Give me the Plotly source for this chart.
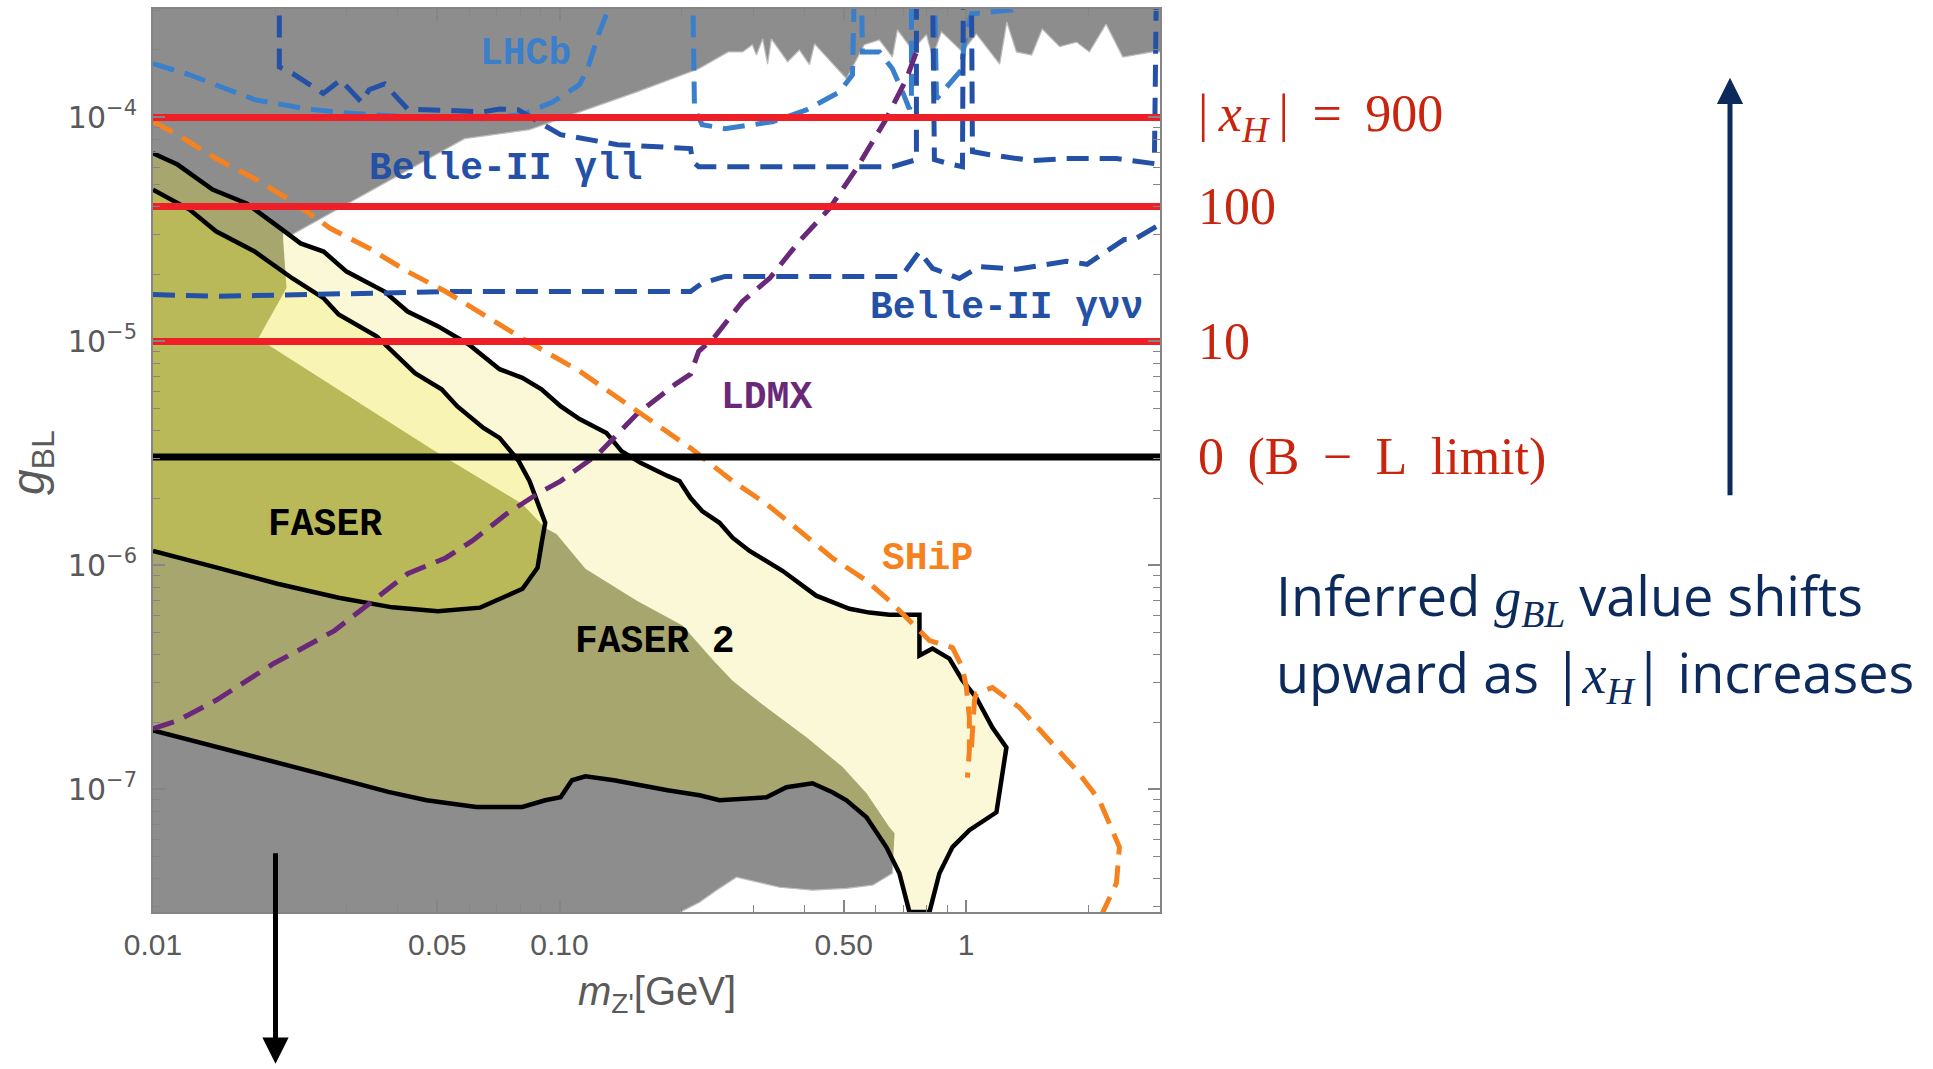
import math
import plotly.graph_objects as go

# ---------------- data (m_Z' in GeV, g_BL) ----------------
# grey: existing constraints, upper jagged edge (right -> left)
gray_top_x = [2.87, 2.43, 2.21, 2.01, 1.87, 1.70, 1.54, 1.45, 1.33, 1.26, 1.21, 1.06, 0.98, 0.87, 0.827, 0.799,
              0.738, 0.678, 0.659, 0.612, 0.562, 0.508, 0.424, 0.412, 0.389, 0.364, 0.332, 0.325, 0.316, 0.305,
              0.298, 0.282, 0.260, 0.220, 0.155, 0.112, 0.0844, 0.0584]
gray_top_y = [1.96e-4, 1.86e-4, 2.61e-4, 1.96e-4, 2.17e-4, 2.07e-4, 2.48e-4, 1.90e-4, 1.96e-4, 2.67e-4, 1.73e-4,
              2.36e-4, 1.96e-4, 2.41e-4, 1.86e-4, 2.34e-4, 2.00e-4, 2.46e-4, 1.86e-4, 2.22e-4, 2.11e-4, 1.49e-4,
              2.13e-4, 1.72e-4, 2.00e-4, 1.77e-4, 2.24e-4, 1.73e-4, 2.24e-4, 1.90e-4, 2.11e-4, 1.96e-4, 1.96e-4,
              1.65e-4, 1.30e-4, 1.06e-4, 8.82e-5, 8.04e-5]
# grey: diagonal edge of the lower excluded region
gray_diag_x = [0.0209, 0.0213, 0.01815, 0.01892, 0.0502, 0.0810, 0.0922, 0.0983, 0.1158, 0.155, 0.2007, 0.239,
               0.2665, 0.3229, 0.405, 0.497, 0.569, 0.648, 0.667]
gray_diag_y = [2.85e-5, 1.73e-5, 1.03e-5, 9.82e-6, 3.18e-6, 1.88e-6, 1.47e-6, 1.38e-6, 9.66e-7, 6.96e-7, 5.39e-7,
               3.76e-7, 3.06e-7, 2.32e-7, 1.71e-7, 1.26e-7, 9.62e-8, 6.78e-8, 6.38e-8]
gray_bot_x = [0.659, 0.589, 0.508, 0.419, 0.3476, 0.2724, 0.2433, 0.221, 0.1984]
gray_bot_y = [4.23e-8, 3.74e-8, 3.62e-8, 3.55e-8, 3.66e-8, 4.06e-8, 3.55e-8, 3.14e-8, 2.84e-8]

# FASER 2 sensitivity contour
faser2_up_x = [0.01, 0.01149, 0.01401, 0.01699, 0.02107, 0.02307, 0.02628, 0.02994, 0.03712, 0.04229, 0.0502,
               0.0597, 0.0712, 0.0810, 0.0903, 0.1006, 0.1120, 0.1305, 0.1421, 0.1582, 0.1844, 0.1973, 0.2101,
               0.2243, 0.2475, 0.2665, 0.2934, 0.3535, 0.4279, 0.5167, 0.5786, 0.648, 0.768, 0.768, 0.827, 0.910,
               0.980, 1.060, 1.161, 1.257, 1.188, 1.019, 0.926, 0.860, 0.813]
faser2_up_y = [6.91e-5, 6.16e-5, 4.76e-5, 4.13e-5, 3.10e-5, 2.74e-5, 2.52e-5, 2.05e-5, 1.67e-5, 1.36e-5, 1.17e-5,
               9.72e-6, 7.52e-6, 6.88e-6, 6.12e-6, 5.14e-6, 4.50e-6, 3.90e-6, 3.24e-6, 2.87e-6, 2.51e-6, 2.38e-6,
               2.00e-6, 1.75e-6, 1.55e-6, 1.33e-6, 1.16e-6, 9.47e-7, 7.33e-7, 6.41e-7, 6.16e-7, 6.03e-7, 6.03e-7,
               3.96e-7, 4.26e-7, 3.84e-7, 3.07e-7, 2.57e-7, 1.89e-7, 1.54e-7, 7.91e-8, 6.58e-8, 5.53e-8, 4.23e-8,
               2.84e-8]
faser2_lo_x = [0.7255, 0.6855, 0.6368, 0.569, 0.508, 0.469, 0.419, 0.3617, 0.3229, 0.2475, 0.221, 0.1844, 0.1362,
               0.1158, 0.1073, 0.1006, 0.0922, 0.0810, 0.0624, 0.0471, 0.0379, 0.0257, 0.01461, 0.01]
faser2_lo_y = [2.84e-8, 4.23e-8, 5.53e-8, 7.52e-8, 8.95e-8, 9.72e-8, 1.066e-7, 1.023e-7, 9.23e-8, 8.95e-8,
               9.42e-8, 9.92e-8, 1.099e-7, 1.145e-7, 1.099e-7, 9.23e-8, 8.95e-8, 8.36e-8, 8.36e-8, 8.95e-8,
               9.75e-8, 1.177e-7, 1.546e-7, 1.835e-7]

# FASER sensitivity contour
faser_up_x = [0.01, 0.0123, 0.01429, 0.01778, 0.02205, 0.02628, 0.02862, 0.03548, 0.04411, 0.05128, 0.0560,
              0.0650, 0.0712, 0.0793, 0.0844, 0.0903, 0.0922]
faser_up_y = [4.76e-5, 3.88e-5, 3.10e-5, 2.52e-5, 1.91e-5, 1.56e-5, 1.32e-5, 1.055e-5, 7.22e-6, 6.12e-6, 5.14e-6,
              4.11e-6, 3.71e-6, 2.93e-6, 2.38e-6, 1.75e-6, 1.55e-6]
faser_lo_x = [0.0903, 0.0883, 0.0811, 0.0727, 0.0638, 0.0502, 0.0388, 0.02862, 0.02023, 0.01429, 0.01]
faser_lo_y = [1.25e-6, 9.77e-7, 7.87e-7, 7.18e-7, 6.48e-7, 6.24e-7, 6.50e-7, 7.18e-7, 8.29e-7, 9.80e-7, 1.16e-6]

# crossing points of the contours with the grey edge
cross_f2_top = (0.0209, 3.13e-5)
cross_f2_bot = (0.661, 4.7e-8)
cross_f_top = (0.02119, 2.01e-5)

# projected sensitivities (dashed)
lhcb_a_x = [0.01, 0.0123, 0.01778, 0.02399, 0.03115, 0.04229, 0.0650, 0.0811, 0.0961, 0.1120, 0.1172, 0.1247, 0.1320, 0.136]
lhcb_a_y = [1.74e-4, 1.55e-4, 1.20e-4, 1.09e-4, 1.04e-4, 1.007e-4, 9.87e-5, 1.03e-4, 1.17e-4, 1.40e-4, 1.65e-4, 2.34e-4, 3.05e-4, 4.0e-4]
lhcb_b_x = [0.2125, 0.2148, 0.2243, 0.2553, 0.334, 0.405, 0.4883, 0.5255, 0.5315]
lhcb_b_y = [4.0e-4, 1.09e-4, 9.28e-5, 8.91e-5, 9.57e-5, 1.08e-4, 1.30e-4, 1.55e-4, 4.0e-4]
lhcb_c_x = [0.5528, 0.556, 0.612, 0.659, 0.698, 0.7256, 0.734, 0.734]
lhcb_c_y = [4.0e-4, 1.96e-4, 1.96e-4, 1.65e-4, 1.30e-4, 1.09e-4, 1.2e-4, 4.0e-4]
lhcb_d_x = [0.836, 0.846, 0.974, 0.991, 1.031, 1.301, 1.6]
lhcb_d_y = [4.0e-4, 1.21e-4, 1.63e-4, 2.17e-4, 2.90e-4, 3.02e-4, 4.0e-4]

bll_a_x = [0.02045, 0.02045, 0.02205, 0.02623, 0.02894, 0.03259, 0.03402, 0.03712, 0.04229, 0.05244, 0.0650,
           0.0712, 0.0793, 0.0903, 0.1006, 0.1389, 0.2007, 0.2101, 0.2125, 0.2200, 0.659, 0.755, 0.755]
bll_a_y = [4.0e-4, 1.68e-4, 1.57e-4, 1.28e-4, 1.47e-4, 1.17e-4, 1.33e-4, 1.41e-4, 1.09e-4, 1.08e-4, 1.06e-4,
           1.09e-4, 1.08e-4, 9.37e-5, 8.38e-5, 7.56e-5, 7.26e-5, 7.26e-5, 6.35e-5, 6.03e-5, 6.03e-5, 6.48e-5, 4.0e-4]
bll_b_x = [0.827, 0.836, 0.926, 0.980, 0.985]
bll_b_y = [4.0e-4, 6.48e-5, 6.16e-5, 6.03e-5, 4.0e-4]
bll_c_x = [1.031, 1.037, 1.142, 1.457, 1.766, 2.344, 2.906, 2.94]
bll_c_y = [4.0e-4, 7.04e-5, 6.82e-5, 6.41e-5, 6.55e-5, 6.55e-5, 6.22e-5, 4.0e-4]

bvv_x = [0.01, 0.01429, 0.02454, 0.05244, 0.0811, 0.2101, 0.2243, 0.2553, 0.389, 0.6936, 0.768, 0.827, 0.963,
         1.079, 1.330, 1.604, 1.766, 1.984, 2.448, 2.591, 3.0]
bvv_y = [1.62e-5, 1.59e-5, 1.62e-5, 1.67e-5, 1.67e-5, 1.67e-5, 1.82e-5, 1.95e-5, 1.95e-5, 1.95e-5, 2.52e-5,
         2.12e-5, 1.91e-5, 2.16e-5, 2.10e-5, 2.21e-5, 2.28e-5, 2.21e-5, 2.85e-5, 2.85e-5, 3.33e-5]

ldmx_x = [0.01, 0.01149, 0.01429, 0.01699, 0.01981, 0.02354, 0.02797, 0.03402, 0.04229, 0.05244, 0.0611, 0.0741,
          0.0883, 0.1006, 0.1247, 0.155, 0.1929, 0.2101, 0.2200, 0.239, 0.282, 0.3284, 0.389, 0.4613, 0.5375,
          0.6368, 0.7137, 0.7596]
ldmx_y = [1.87e-7, 2.03e-7, 2.50e-7, 3.06e-7, 3.65e-7, 4.31e-7, 5.12e-7, 6.75e-7, 9.18e-7, 1.08e-6, 1.29e-6,
          1.70e-6, 2.09e-6, 2.38e-6, 3.15e-6, 4.74e-6, 6.45e-6, 7.14e-6, 9.04e-6, 1.03e-5, 1.51e-5, 1.91e-5,
          2.80e-5, 3.92e-5, 5.91e-5, 9.87e-5, 1.49e-4, 2.02e-4]

ship_a_x = [0.01, 0.01149, 0.01429, 0.01778, 0.02205, 0.02734, 0.03410, 0.04229, 0.05244, 0.0650, 0.0811, 0.1120,
            0.155, 0.2101, 0.2665, 0.3229, 0.389, 0.469, 0.569, 0.648, 0.738, 0.813, 0.926, 0.980, 1.002, 1.019,
            1.019, 1.008]
ship_a_y = [9.57e-5, 8.38e-5, 6.55e-5, 5.33e-5, 4.21e-5, 3.19e-5, 2.60e-5, 2.05e-5, 1.67e-5, 1.32e-5, 1.03e-5,
            7.37e-6, 4.89e-6, 3.34e-6, 2.38e-6, 1.88e-6, 1.43e-6, 1.08e-6, 8.55e-7, 6.96e-7, 5.50e-7, 4.62e-7,
            4.30e-7, 3.50e-7, 2.85e-7, 2.10e-7, 1.49e-7, 1.13e-7]
ship_b_x = [1.031, 1.049, 1.060, 1.161, 1.354, 1.604, 1.868, 2.129, 2.384, 2.344, 2.166]
ship_b_y = [1.54e-7, 2.50e-7, 2.68e-7, 2.85e-7, 2.32e-7, 1.66e-7, 1.22e-7, 8.95e-8, 5.53e-8, 3.82e-8, 2.81e-8]

# horizontal reference levels
TS = '\u2009'   # thin space
NB = '\u00a0'   # non-breaking space
xh_levels = [1e-4, 4e-5, 1e-5]
xh_labels = ["|" + TS + "<i>x</i><sub><i>H</i></sub>" + TS + "|" + NB + TS + "=" + NB + TS + "900", "100", "10"]
bl_level = 3.05e-6
bl_label = "0" + TS + " (B" + TS + " \u2212 " + TS + "L" + TS + " limit)"

# ---------------- styles ----------------
GRAY = '#8e8d8e'
OLIVE_GRAY = '#a8a66f'
OLIVE = '#bab95a'
PALE = '#f8f4b4'
CREAM = '#fbf8d7'
LBLUE = '#3a7fcb'
DBLUE = '#2451a5'
PURPLE = '#6a2878'
ORANGE = '#f5821f'
RED = '#ee1f26'
REDTXT = '#c9240d'
NAVY = '#0c2a5b'
AX = '#858585'
TXT = '#5a5a5a'
DASH = '22px,11px'
DW = 5

fig = go.Figure()


def add_fill(xs, ys, color, lw=0, lc=None):
    fig.add_trace(go.Scatter(x=xs, y=ys, mode='lines', fill='toself', fillcolor=color,
                             line=dict(width=lw, color=lc or color), hoverinfo='skip', showlegend=False))


def add_line(xs, ys, color, width, dash='solid'):
    fig.add_trace(go.Scatter(x=xs, y=ys, mode='lines', line=dict(color=color, width=width, dash=dash),
                             hoverinfo='skip', showlegend=False))


# grey excluded region
gray_x = [0.009, 0.009, 3.5, 3.5] + gray_top_x + gray_diag_x + gray_bot_x + [0.19]
gray_y = [1e-8, 1e-3, 1e-3, 1.96e-4] + gray_top_y + gray_diag_y + gray_bot_y + [1e-8]
add_fill(gray_x, gray_y, GRAY, 1.2, '#bdbdbd')

# FASER 2 region
add_fill(faser2_up_x + faser2_lo_x, faser2_up_y + faser2_lo_y, CREAM)
f2g_x = faser2_up_x[:4] + [cross_f2_top[0]] + gray_diag_x + [cross_f2_bot[0]] + faser2_lo_x[2:]
f2g_y = faser2_up_y[:4] + [cross_f2_top[1]] + gray_diag_y + [cross_f2_bot[1]] + faser2_lo_y[2:]
add_fill(f2g_x, f2g_y, OLIVE_GRAY)

# FASER region
add_fill(faser_up_x + faser_lo_x, faser_up_y + faser_lo_y, PALE)
fg_x = faser_up_x[:4] + [cross_f_top[0]] + gray_diag_x[1:7] + faser_lo_x
fg_y = faser_up_y[:4] + [cross_f_top[1]] + gray_diag_y[1:7] + faser_lo_y
add_fill(fg_x, fg_y, OLIVE)

# contours
add_line(faser2_up_x + faser2_lo_x, faser2_up_y + faser2_lo_y, 'black', 4.5)
add_line(faser_up_x + faser_lo_x, faser_up_y + faser_lo_y, 'black', 4.5)

# dashed projections
for xs, ys in [(lhcb_a_x, lhcb_a_y), (lhcb_b_x, lhcb_b_y), (lhcb_c_x, lhcb_c_y), (lhcb_d_x, lhcb_d_y)]:
    add_line(xs, ys, LBLUE, DW, DASH)
for xs, ys in [(bll_a_x, bll_a_y), (bll_b_x, bll_b_y), (bll_c_x, bll_c_y), (bvv_x, bvv_y)]:
    add_line(xs, ys, DBLUE, DW, DASH)
add_line(ldmx_x, ldmx_y, PURPLE, DW, DASH)
add_line(ship_a_x, ship_a_y, ORANGE, DW, DASH)
add_line(ship_b_x, ship_b_y, ORANGE, DW, DASH)

# horizontal levels
for lv in xh_levels:
    add_line([0.005, 5], [lv, lv], RED, 7)
add_line([0.005, 5], [bl_level, bl_level], 'black', 7)

# ---------------- annotations ----------------
ann = []
mono = dict(family='Liberation Mono', size=38)
inplot = [
    ('<b>LHCb</b>', 0.0825, 1.92e-4, LBLUE),
    ('<b>Belle-II \u03b3ll</b>', 0.0737, 5.91e-5, DBLUE),
    ('<b>Belle-II \u03b3\u03bd\u03bd</b>', 1.264, 1.42e-5, DBLUE),
    ('<b>LDMX</b>', 0.323, 5.64e-6, PURPLE),
    ('<b>SHiP</b>', 0.804, 1.07e-6, ORANGE),
    ('<b>FASER</b>', 0.0265, 1.53e-6, 'black'),
    ('<b>FASER 2</b>', 0.1717, 4.57e-7, 'black'),
]
for t, x, y, c in inplot:
    ann.append(dict(text=t, x=math.log10(x), y=math.log10(y), xref='x', yref='y', showarrow=False,
                    xanchor='center', yanchor='middle', font=dict(color=c, **mono)))

L, T, PW, PH = 153, 7, 1007, 905


def pxx(px):
    return (px - L) / PW


def pxy(py):
    return (T + PH - py) / PH


serif = dict(family='Liberation Serif', size=52, color=REDTXT)
for lab, lv in list(zip(xh_labels, xh_levels)) + [(bl_label, bl_level)]:
    ann.append(dict(text=lab, x=pxx(1196), y=math.log10(lv), xref='paper', yref='y', showarrow=False,
                    xanchor='left', yanchor='middle', font=serif))

navy_font = dict(family='Open Sans', size=54, color=NAVY)
ann.append(dict(text="Inferred <span style=\"font-family:Liberation Serif\"><i>g</i><sub><i>BL</i></sub></span> value shifts",
                x=pxx(1274), y=pxy(596), xref='paper', yref='paper', showarrow=False, xanchor='left',
                yanchor='middle', font=navy_font))
ann.append(dict(text="upward as |<span style=\"font-family:Liberation Serif\"><i>x</i><sub><i>H</i></sub></span>| increases",
                x=pxx(1274), y=pxy(673), xref='paper', yref='paper', showarrow=False, xanchor='left',
                yanchor='middle', font=navy_font))

# arrows
ann.append(dict(text='', x=pxx(1730), y=pxy(76), xref='paper', yref='paper', ax=0, ay=419,
                showarrow=True, arrowhead=2, arrowsize=1.05, arrowwidth=5, arrowcolor=NAVY))
ann.append(dict(text='', x=pxx(275.5), y=pxy(1064), xref='paper', yref='paper', ax=0, ay=-212,
                showarrow=True, arrowhead=2, arrowsize=1.05, arrowwidth=5, arrowcolor='black'))

# axis titles
ann.append(dict(text="<i>m</i><sub>Z'</sub>[GeV]", x=pxx(657), y=pxy(994), xref='paper', yref='paper',
                showarrow=False, xanchor='center', yanchor='middle',
                font=dict(family='Liberation Sans', size=40, color=TXT)))
ann.append(dict(text="<i>g</i><sub>BL</sub>", x=pxx(32), y=pxy(462), xref='paper', yref='paper',
                showarrow=False, xanchor='center', yanchor='middle', textangle=-90,
                font=dict(family='Liberation Sans', size=46, color=TXT)))

x_minor = [0.02, 0.03, 0.04, 0.06, 0.07, 0.08, 0.09, 0.2, 0.3, 0.4, 0.6, 0.7, 0.8, 0.9, 2, 3]
y_minor = [m * 10 ** e for e in range(-8, -3) for m in range(2, 10)]

fig.update_layout(width=1933, height=1069, margin=dict(l=L, r=1933 - L - PW, t=T, b=1069 - T - PH),
                  paper_bgcolor='white', plot_bgcolor='white', showlegend=False, annotations=ann)
fig.update_xaxes(type='log', range=[-2, math.log10(3)], showgrid=False, zeroline=False, showline=True,
                 linecolor=AX, linewidth=2, mirror='allticks', ticks='inside', ticklen=12, tickwidth=1.5,
                 tickcolor=AX, tickvals=[0.01, 0.05, 0.1, 0.5, 1], ticktext=['0.01', '0.05', '0.10', '0.50', '1'],
                 tickfont=dict(family='Liberation Sans', size=30, color=TXT), ticklabelstandoff=5,
                 minor=dict(tickvals=x_minor, ticks='inside', ticklen=7, tickwidth=1.2, tickcolor=AX, showgrid=False))
fig.update_yaxes(type='log', range=[-7.547, -3.516], showgrid=False, zeroline=False, showline=True,
                 linecolor=AX, linewidth=2, mirror='allticks', ticks='inside', ticklen=12, tickwidth=1.5,
                 tickcolor=AX, tickvals=[1e-7, 1e-6, 1e-5, 1e-4],
                 ticktext=['10<sup>\u22127</sup>', '10<sup>\u22126</sup>', '10<sup>\u22125</sup>', '10<sup>\u22124</sup>'],
                 tickfont=dict(family='DejaVu Sans', size=30, color=TXT), ticklabelstandoff=8,
                 minor=dict(tickvals=y_minor, ticks='inside', ticklen=7, tickwidth=1.2, tickcolor=AX, showgrid=False))

fig.write_html("out.html")
